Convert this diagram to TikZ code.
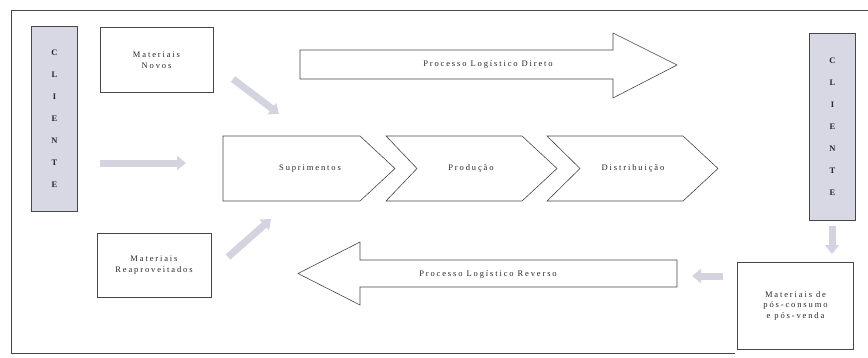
\documentclass[tikz,border=0pt]{standalone}
\usepackage{fontspec}
\setmainfont{Liberation Serif}
\usetikzlibrary{arrows.meta}

\definecolor{clifill}{RGB}{216,216,228}
\definecolor{setacor}{RGB}{212,212,224}
\definecolor{linha}{RGB}{70,70,70}

\tikzset{
  rotulo/.style={text=black!85,font=\fontsize{8.5}{10.5}\selectfont\addfontfeature{LetterSpace=22}},
  caixa/.style={draw=linha,line width=0.6pt,align=center,inner sep=0pt,rotulo},
  cliente/.style={caixa,fill=clifill,minimum width=46pt,font=\fontsize{8.5}{22}\selectfont\bfseries},
  bloco/.style={draw=linha,line width=0.6pt,fill=white},
  seta/.style={draw=setacor,line width=7pt,-{Triangle[width=14pt,length=9pt]}}
}

\begin{document}
\begin{tikzpicture}[x=1pt,y=-1pt]
\useasboundingbox(0,0)rectangle(868,357);
\draw[linha,line width=0.9pt](868,10)--(11,10)--(11,353)--(735,353);
% clientes
\node[cliente,minimum height=185pt](cliL)at(54.5,119){C\\L\\I\\E\\N\\T\\E};
\node[cliente,minimum height=187pt](cliR)at(832.5,126.5){C\\L\\I\\E\\N\\T\\E};
% materiais
\node[caixa,minimum width=113pt,minimum height=65pt](novos)at(156.5,60){Materiais\\Novos};
\node[caixa,minimum width=114pt,minimum height=64pt](reap)at(154,265){Materiais\\Reaproveitados};
\node[caixa,minimum width=116pt,minimum height=87pt](pos)at(795.5,305.5){Materiais de\\pós-consumo\\e pós-venda};
% cadeia
\draw[bloco](223,136)--(360,136)--(395,168.5)--(360,201)--(223,201)--cycle;
\draw[bloco](386,136)--(522,136)--(557,168.5)--(522,201)--(386,201)--(417,168.5)--cycle;
\draw[bloco](547,136)--(683,136)--(718,168.5)--(683,201)--(547,201)--(580,168.5)--cycle;
\node[rotulo](sup)at(310,168.5){Suprimentos};
\node[rotulo](prod)at(471,168.5){Produção};
\node[rotulo](dist)at(633,168.5){Distribuição};
% processos
\draw[bloco](300,50)--(613,50)--(613,33)--(677,65)--(613,98)--(613,79)--(300,79)--cycle;
\node[rotulo](direto)at(488,64.5){Processo Logístico Direto};
\draw[bloco](298,273.5)--(360,242)--(360,260)--(677,260)--(677,287)--(360,287)--(360,305)--cycle;
\node[rotulo](reverso)at(488,274){Processo Logístico Reverso};
% setas cinza
\coordinate(a1)at(233,79);
\coordinate(a1f)at(279,114);
\coordinate(a2)at(100,163);
\coordinate(a2f)at(186,163);
\coordinate(a3)at(228,257);
\coordinate(a3f)at(271,219);
\coordinate(a4)at(832,226);
\coordinate(a4f)at(832,254);
\coordinate(a5)at(723,276);
\coordinate(a5f)at(692,276);
\draw[seta](a1)--(a1f);
\draw[seta](a2)--(a2f);
\draw[seta](a3)--(a3f);
\draw[seta](a4)--(a4f);
\draw[seta](a5)--(a5f);
\end{tikzpicture}
\end{document}
